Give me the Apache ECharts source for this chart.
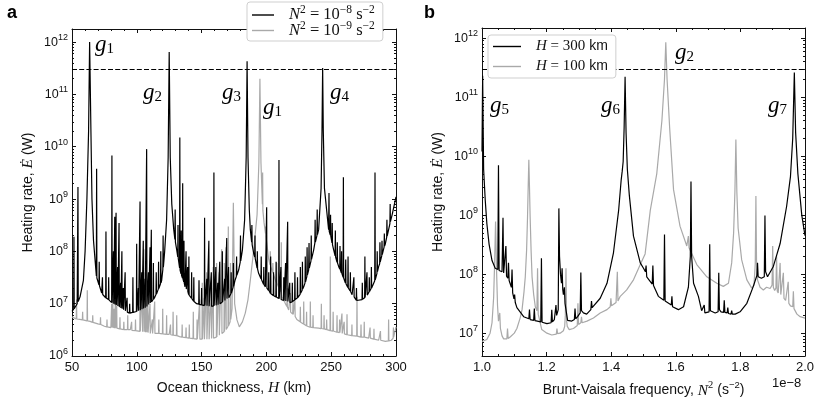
<!DOCTYPE html>
<html>
<head>
<meta charset="utf-8">
<script src="https://cdn.jsdelivr.net/npm/echarts@6/dist/echarts.min.js"></script>
<style>
html, body { margin: 0; padding: 0; background: #fff; }
#container { width: 830px; height: 415px; }
</style>
</head>
<body>
<div id="container"></div>
<script>
// panel a: heating rate vs ocean thickness H (km), two stratifications
let aStrong = [ // N^2 = 1e-8 s^-2
    [50, 7.1e6], [51.3, 7.9e6], [51.5, 1.9e8], [51.7, 8e6], [52, 8.3e6], [54, 1.0e7],
    [54.4, 1.05e7], [54.6, 1.7e9], [54.8, 1.1e7], [56.2, 1.35e7], [58.8, 2.8e7], [60.1, 1.0e8],
    [61.5, 1.0e9], [62.8, 2.0e10], [63.6, 1.0e12], [64.6, 2.0e10], [65.4, 1.0e9], [66.6, 1.6e8],
    [68.8, 3.4e7], [69.0, 3.8e9], [69.2, 3.1e7], [70.8, 2.3e7], [71.0, 6.3e7], [71.2, 2.2e7],
    [72.9, 1.6e7], [73.3, 1.55e7], [73.5, 3.2e7], [73.7, 1.5e7], [76.0, 1.3e7], [76.2, 2.4e8],
    [76.4, 1.28e7], [76.7, 1.26e7], [78.1, 1.2e7], [78.3, 3.2e7], [78.5, 1.18e7],
    [80.6, 1.05e7], [80.8, 6.8e9], [81.0, 1.04e7], [81.8, 1.0e7], [82.0, 1.0e8], [82.2, 1.0e7],
    [82.8, 9.7e6], [83.0, 4.6e8], [83.2, 9.6e6], [83.8, 9.4e6], [84.0, 5.5e8], [84.2, 9.3e6],
    [85.0, 9e6], [85.2, 5e7], [85.4, 9e6], [86.1, 8.7e6], [86.3, 3.5e8], [86.5, 8.6e6],
    [87.3, 8.4e6], [87.5, 2.5e7], [87.7, 8.3e6], [88.3, 8.1e6], [88.5, 1e8], [88.7, 8e6],
    [89.4, 7.8e6], [89.6, 2e7], [89.8, 7.7e6], [90.8, 7.4e6], [91.0, 4e7], [91.2, 7.3e6],
    [92.3, 7e6], [92.5, 1.3e7], [92.7, 6.9e6], [93.5, 6.6e6], [94.3, 6.6e6], [94.5, 1e7],
    [94.7, 6.6e6], [96.8, 6.8e6], [97.0, 3.2e7], [97.2, 6.8e6], [99.7, 7.1e6], [99.9, 1.4e8],
    [100.1, 7.1e6], [101.0, 7.3e6], [101.2, 2e7], [101.4, 7.3e6], [102.3, 7.5e6], [102.5, 9e8],
    [102.7, 7.5e6], [103.6, 7.8e6], [103.8, 4e7], [104.0, 7.8e6], [104.8, 8.1e6], [105.0, 1.6e8],
    [105.2, 8.1e6], [106.1, 8.4e6], [106.3, 3e7], [106.5, 8.4e6], [107.4, 8.7e6], [107.6, 9e9],
    [107.8, 8.8e6], [108.8, 9.5e6], [109.0, 4e7], [109.2, 9.6e6], [110.0, 1.02e7], [110.2, 1.2e8],
    [110.4, 1.03e7], [111.0, 1.07e7], [111.2, 2.6e8], [111.4, 1.08e7], [112.6, 1.2e7], [112.8, 6e7],
    [113.0, 1.22e7], [114, 1.35e7], [114.8, 1.5e7], [115.0, 4e7], [115.2, 1.52e7],
    [116.6, 1.9e7], [116.8, 6.3e7], [117.0, 1.95e7], [118.3, 2.4e7], [118.5, 1e8], [118.7, 2.5e7],
    [119.2, 2.8e7], [120.1, 4.5e7], [120.3, 2e8], [120.5, 5e7], [121.5, 1.0e8], [123, 4.0e8],
    [124.2, 6.3e9], [125, 6.5e11], [125.8, 6.3e9], [127, 8e8], [128.5, 2.6e8],
    [129.4, 1.7e8], [129.6, 6.3e8], [129.8, 1.5e8], [130.8, 1.07e8], [131.6, 7.8e7], [131.8, 3.2e8],
    [132.0, 7.3e7], [133.0, 4.8e7], [133.2, 1.5e10], [133.4, 4.4e7], [134.1, 3.7e7], [134.3, 2.5e8],
    [134.5, 3.5e7], [135.2, 3.1e7], [135.4, 2e9], [135.6, 3e7], [136.2, 2.6e7], [136.4, 1.6e8],
    [136.6, 2.5e7], [137.2, 2.1e7], [137.8, 1.95e7], [138.0, 1e8], [138.2, 1.9e7],
    [139.0, 1.75e7], [139.2, 5e7], [139.4, 1.7e7], [140.0, 1.5e7], [140.2, 8e7], [140.4, 1.45e7],
    [141, 1.35e7], [142.1, 1.27e7], [142.3, 4e7], [142.5, 1.25e7], [143.8, 1.12e7], [144.0, 3.2e7],
    [144.2, 1.1e7], [146.2, 1.0e7], [147.8, 9.8e6], [148.0, 2.8e7], [148.2, 9.7e6],
    [149.8, 9.5e6], [150.0, 2e7], [150.2, 9.5e6], [151.3, 9.3e6], [152.1, 9.2e6], [152.3, 4.4e8],
    [152.5, 9.2e6], [153.8, 9.1e6], [154.0, 3e7], [154.2, 9.1e6], [155.4, 8.9e6], [155.6, 1.6e8],
    [155.8, 8.9e6], [156.5, 8.9e6], [157.3, 8.9e6], [157.5, 4e7], [157.7, 8.9e6],
    [159.3, 9.1e6], [159.5, 3.2e9], [159.7, 9.1e6], [160.8, 9.2e6], [161.0, 5e7], [161.2, 9.3e6],
    [161.6, 9.3e6], [162.3, 9.5e6], [162.5, 2.5e7], [162.7, 9.5e6], [163.8, 1e7], [164.0, 6.3e7],
    [164.2, 1e7], [165.8, 1.07e7], [166.0, 1e8], [166.2, 1.08e7], [166.8, 1.1e7],
    [167.6, 1.15e7], [167.8, 3e7], [168.0, 1.15e7], [169.2, 1.25e7], [169.4, 1.8e8], [169.6, 1.25e7],
    [170.6, 1.3e7], [170.8, 5e7], [171.0, 1.3e7], [171.9, 1.35e7], [172.6, 1.55e7], [172.8, 4e7],
    [173.0, 1.6e7], [174.3, 2.05e7], [174.5, 6e7], [174.7, 2.15e7], [175.8, 2.8e7],
    [176.8, 3.3e7], [177.0, 8e7], [177.2, 3.5e7], [178.6, 4.4e7], [179.8, 6.2e7], [180.0, 2e8],
    [180.2, 6.6e7], [181.5, 1.07e8], [183.2, 4e8], [184.4, 6.3e9], [185.1, 4.3e11], [185.8, 6.3e9],
    [186.8, 6.3e8], [187.6, 2.6e8], [188.6, 1.5e8], [188.8, 3.2e8], [189.0, 1.35e8],
    [190.2, 9.1e7], [191.0, 7.8e7], [191.2, 2e8], [191.4, 7.3e7], [192.8, 4.8e7], [193.0, 1e8],
    [193.2, 4.6e7], [194, 3.8e7], [195.8, 3e7], [196.0, 8e7], [196.2, 2.9e7],
    [197.8, 2.35e7], [198.0, 5e7], [198.2, 2.3e7], [199.2, 2.1e7], [200.0, 2e7], [200.2, 7e8],
    [200.4, 1.98e7], [201.6, 1.8e7], [201.8, 4e7], [202.0, 1.78e7], [203.1, 1.57e7], [203.3, 8e7],
    [203.5, 1.55e7], [204.3, 1.48e7], [205.3, 1.43e7], [205.5, 4e7], [205.7, 1.42e7],
    [207.3, 1.35e7], [207.5, 6.3e7], [207.7, 1.34e7], [209.5, 1.26e7], [209.7, 5.6e9], [209.9, 1.25e7],
    [211.0, 1.2e7], [211.2, 5e7], [211.4, 1.2e7], [212, 1.17e7], [213.2, 1.15e7], [213.4, 3.2e7],
    [213.6, 1.15e7], [214.6, 1.12e7], [214.8, 6e7], [215.0, 1.12e7], [216.2, 1.1e7], [216.4, 3.7e8],
    [216.6, 1.1e7], [217.8, 1.06e7], [218.0, 2.5e7], [218.2, 1.05e7], [218.5, 1.05e7],
    [219.8, 1.08e7], [220.0, 2.5e7], [220.2, 1.1e7], [221.8, 1.18e7], [222.0, 4e7], [222.2, 1.2e7],
    [223.8, 1.28e7], [224.0, 3.2e7], [224.2, 1.3e7], [224.9, 1.35e7], [226.0, 1.5e7], [226.2, 5e7],
    [226.4, 1.58e7], [227.6, 1.8e7], [227.8, 6.3e7], [228.0, 1.9e7], [228.8, 2.1e7],
    [229.8, 2.5e7], [230.0, 8e7], [230.2, 2.6e7], [231.2, 3.3e7], [231.4, 1.2e8], [231.6, 3.5e7],
    [232.6, 4.4e7], [232.7, 4.5e7], [232.9, 1.45e8], [233.1, 4.8e7], [234.4, 6.6e7], [234.6, 2e8],
    [234.8, 7e7], [236.5, 1.07e8], [237.4, 1.45e8], [237.6, 4e8], [237.8, 1.5e8],
    [239.0, 2e8], [239.2, 6.3e8], [239.4, 2.1e8], [240.3, 2.6e8], [242.2, 1.6e9], [242.9, 2.0e10],
    [243.4, 3.2e11], [243.9, 2.0e10], [244.8, 1.6e9], [248, 2.6e8], [248.1, 2.55e8], [248.3, 1.3e9],
    [248.5, 2.4e8], [249.3, 2.05e8], [249.5, 5e8], [249.7, 1.95e8], [250.6, 1.45e8], [250.8, 3.5e8],
    [251.0, 1.35e8], [251.9, 1.07e8], [253.0, 8.2e7], [253.2, 2.5e8], [253.4, 7.8e7],
    [254.5, 6.2e7], [254.7, 1.5e8], [254.9, 6e7], [255.8, 5.1e7], [256.6, 4.6e7], [256.8, 1.26e8],
    [257.0, 4.5e7], [257.8, 3.9e7], [258.0, 1e8], [258.2, 3.8e7], [259.2, 3.2e7], [259.4, 2.6e9],
    [259.6, 3.1e7], [260.9, 2.5e7], [261.0, 2.45e7], [261.2, 7e7], [261.4, 2.4e7],
    [262.8, 2.05e7], [263.0, 8e7], [263.2, 2e7], [264.6, 1.75e7], [264.8, 4e7], [265.0, 1.7e7],
    [266.1, 1.48e7], [267.3, 1.37e7], [267.5, 3.2e7], [267.7, 1.35e7], [269.3, 1.16e7], [269.5, 2e7],
    [269.7, 1.15e7], [271.2, 1.1e7], [273.8, 1.2e7], [274.0, 2.5e7], [274.2, 1.22e7],
    [275.8, 1.3e7], [276.0, 8e7], [276.2, 1.32e7], [277.4, 1.43e7], [277.6, 4e7], [277.8, 1.46e7],
    [279.2, 1.68e7], [279.4, 3.2e7], [279.6, 1.72e7], [280.8, 1.95e7], [281.0, 5e7], [281.2, 2e7],
    [281.5, 2.1e7], [283.6, 2.75e7], [283.8, 3.2e9], [284.0, 2.85e7], [285.3, 3.8e7], [285.5, 1e8],
    [285.7, 4.1e7], [286.6, 5.1e7], [287.4, 5.8e7], [287.6, 1.5e8], [287.8, 6.2e7],
    [289.0, 8.2e7], [289.2, 1.6e8], [289.4, 8.7e7], [290.8, 1.2e8], [291.0, 2.2e8], [291.2, 1.26e8],
    [291.8, 1.4e8], [292.8, 1.85e8], [293.0, 4e8], [293.2, 1.95e8], [294.3, 2.6e8],
    [295.3, 3.4e8], [295.5, 8e8], [295.7, 3.7e8], [297, 5e8], [300, 1.1e9]
];
let aWeak = [ // N^2 = 1e-9 s^-2
    [50, 5.6e6], [53.3, 5.1e6], [53.5, 1.2e7], [53.7, 5.1e6], [56, 5.0e6], [58.0, 4.9e6],
    [58.2, 7e6], [58.4, 4.9e6], [61.6, 4.7e6], [61.8, 1.8e7], [62.0, 4.7e6], [64, 4.6e6],
    [65.8, 4.4e6], [66.0, 6e6], [66.2, 4.4e6], [70, 4.1e6], [71.8, 4e6], [72.0, 5.5e6], [72.2, 4e6],
    [75, 3.7e6], [76.8, 3.6e6], [77.0, 5e6], [77.2, 3.6e6], [80, 3.5e6], [80.4, 3.5e6], [80.6, 1e7],
    [80.8, 3.5e6], [81.3, 3.45e6], [81.5, 1.2e7], [81.7, 3.45e6], [82.3, 3.4e6], [82.5, 8e6],
    [82.7, 3.4e6], [83.3, 3.4e6], [83.5, 1.1e7], [83.7, 3.4e6], [84.3, 3.4e6], [84.5, 9e6],
    [84.7, 3.4e6], [86.8, 3.3e6], [87.0, 5.5e6], [87.2, 3.3e6], [89.8, 3.2e6], [90.0, 4.5e6],
    [90.2, 3.2e6], [92.8, 3.2e6], [93.0, 6e6], [93.2, 3.2e6], [95, 3.2e6], [95.8, 3.15e6],
    [96.0, 4.5e6], [96.2, 3.1e6], [98.8, 3.05e6], [99.0, 5e6], [99.2, 3.05e6], [100, 3.0e6],
    [102.3, 2.95e6], [102.5, 8.7e6], [102.7, 2.95e6], [104.1, 2.9e6], [104.3, 2e7], [104.5, 2.9e6],
    [105.3, 2.9e6], [105.5, 1.1e8], [105.7, 2.9e6], [106.3, 2.85e6], [106.5, 4e7], [106.7, 2.85e6],
    [107.3, 2.85e6], [107.5, 7e7], [107.7, 2.85e6], [108.3, 2.8e6], [108.5, 2.5e7], [108.7, 2.8e6],
    [110.0, 2.7e6], [110.2, 1e7], [110.4, 2.7e6], [111.8, 2.7e6], [112.0, 5e6], [112.2, 2.7e6],
    [113.6, 2.7e6], [113.8, 1.1e7], [114.0, 2.7e6], [116.8, 2.7e6], [117.0, 5e6], [117.2, 2.7e6],
    [118, 2.7e6], [119.8, 2.65e6], [120.0, 8e6], [120.2, 2.65e6], [122.8, 2.6e6], [123.0, 6e6],
    [123.2, 2.6e6], [125, 2.6e6], [125.8, 2.55e6], [126.0, 4e6], [126.2, 2.55e6], [127.8, 2.5e6],
    [128.0, 7e6], [128.2, 2.5e6], [130.6, 2.45e6], [130.8, 6e6], [131.0, 2.45e6], [133, 2.35e6],
    [134.8, 2.3e6], [135.0, 4e6], [135.2, 2.3e6], [137.8, 2.25e6], [138.0, 3.5e6], [138.2, 2.25e6],
    [140.3, 2.2e6], [140.5, 4e6], [140.7, 2.2e6], [141, 2.2e6], [143.4, 2.15e6], [143.6, 7e6],
    [143.8, 2.15e6], [146.3, 2.1e6], [146.5, 5e6], [146.7, 2.1e6], [148, 2.1e6], [148.3, 2.1e6],
    [148.5, 1.2e7], [148.7, 2.1e6], [150.3, 2.1e6], [150.5, 2.5e7], [150.7, 2.1e6], [151.8, 2.1e6],
    [152.0, 1.3e7], [152.2, 2.1e6], [153.7, 2.1e6], [153.9, 4e7], [154.1, 2.1e6], [155, 2.1e6],
    [155.4, 2.1e6], [155.6, 3e7], [155.8, 2.1e6], [157.3, 2.15e6], [157.5, 2e7], [157.7, 2.15e6],
    [158.8, 2.2e6], [159.0, 5e7], [159.2, 2.2e6], [160, 2.2e6], [161.4, 2.3e6], [161.6, 6e7],
    [161.8, 2.3e6], [163.3, 2.45e6], [163.5, 4e7], [163.7, 2.5e6], [165, 2.6e6], [165.3, 2.65e6],
    [165.5, 1.1e8], [165.7, 2.7e6], [167.3, 2.9e6], [167.5, 6e7], [167.7, 2.95e6], [168.6, 3.1e6],
    [168.8, 1.2e8], [169.0, 3.2e6], [170.4, 3.7e6], [170.6, 3e8], [170.8, 3.8e6], [172, 4.5e6],
    [172.1, 4.6e6], [172.3, 6e7], [172.5, 5e6], [173.5, 8e6], [174.5, 8.5e8], [175.5, 1e7],
    [177.3, 4.9e6], [179.1, 3.6e6], [181.5, 4.5e6], [183.7, 6.6e6], [185.8, 1.2e7], [187.6, 2.8e7],
    [190.2, 1.07e8], [192.8, 5e8], [194.2, 5e9], [195, 2e11], [195.8, 5e9], [196.9, 8e8],
    [197.1, 3.2e9], [197.3, 6e8], [198.2, 3.5e8], [199.3, 2.2e8], [199.5, 3e8], [199.7, 1.9e8],
    [201.8, 7e7], [202.8, 5.5e7], [203.0, 1e8], [203.2, 5.2e7], [204.8, 4e7], [205.0, 6e7],
    [205.2, 3.9e7], [206.9, 2.8e7], [207.8, 2.5e7], [208.0, 6e7], [208.2, 2.45e7], [209.3, 2.1e7],
    [209.5, 4e7], [209.7, 2.05e7], [211.3, 1.7e7], [211.5, 1.5e8], [211.7, 1.65e7], [212, 1.35e7],
    [213.8, 1.1e7], [214.0, 2.5e7], [214.2, 1.05e7], [215.8, 8.8e6], [216.0, 2e7], [216.2, 8.6e6],
    [217.2, 7.6e6], [218.3, 7e6], [218.5, 1.6e7], [218.7, 6.9e6], [220.3, 6.3e6], [220.5, 1.1e7],
    [220.7, 6.2e6], [221.8, 5.8e6], [222.0, 1.2e7], [222.2, 5.7e6], [223.5, 5e6], [224.9, 4.6e6],
    [226.0, 4.5e6], [226.2, 8.7e6], [226.4, 4.4e6], [228.6, 4.1e6], [228.8, 1.1e7], [229.0, 4.05e6],
    [230.8, 3.8e6], [231.0, 7e6], [231.2, 3.75e6], [232.6, 3.6e6], [233.7, 3.55e6], [233.9, 1.1e7],
    [234.1, 3.55e6], [235.8, 3.5e6], [236.0, 6e6], [236.2, 3.5e6], [240.3, 3.4e6], [242.2, 3.35e6],
    [242.4, 1e7], [242.6, 3.35e6], [244.3, 3.3e6], [244.5, 6e6], [244.7, 3.3e6], [246.3, 3.2e6],
    [246.5, 5e6], [246.7, 3.2e6], [249.1, 3.05e6], [249.3, 8e7], [249.5, 3.05e6], [250.6, 3e6],
    [251.3, 3e6], [251.5, 7e6], [251.7, 3e6], [254.3, 2.85e6], [254.5, 6e6], [254.7, 2.85e6],
    [256.3, 2.8e6], [256.5, 5e6], [256.7, 2.8e6], [258.1, 2.7e6], [258.3, 6.5e6], [258.5, 2.7e6],
    [259.8, 2.65e6], [260.0, 4.5e6], [260.2, 2.65e6], [262.0, 2.55e6], [262.2, 6.3e6], [262.4, 2.55e6],
    [263.5, 2.5e6], [265.8, 2.45e6], [266.0, 4e6], [266.2, 2.45e6], [269.7, 2.4e6], [269.9, 1.35e7],
    [270.1, 2.4e6], [271.2, 2.35e6], [272.8, 2.3e6], [273.0, 4e6], [273.2, 2.3e6], [275.3, 2.3e6],
    [275.5, 4.5e6], [275.7, 2.3e6], [278.9, 2.2e6], [279.8, 2.2e6], [280.0, 3.5e6], [280.2, 2.2e6],
    [282.8, 2.1e6], [283.0, 3.3e6], [283.2, 2.1e6], [286.6, 2.0e6], [287.8, 2e6], [288.0, 3e6],
    [288.2, 2e6], [291.8, 1.9e6], [294.1, 1.95e6], [294.3, 5e6], [294.5, 1.95e6], [296.4, 2.0e6],
    [297.8, 2.2e6], [298.0, 3.5e6], [298.2, 2.3e6], [300, 3.6e6]
];
// panel b: heating rate vs N^2 (units of 1e-8 s^-2), two ocean thicknesses
let bDeep = [ // H = 300 km
    [1.0, 1.2e10], [1.002, 2.3e11], [1.005, 6e9], [1.01, 1.8e9], [1.015, 7.2e8], [1.022, 3.2e8],
    [1.031, 1.7e8], [1.041, 1.26e8], [1.049, 1.2e8], [1.051, 7e9], [1.053, 1.15e8],
    [1.062, 1.1e8], [1.065, 9e8], [1.067, 1.05e8], [1.072, 1e8], [1.074, 3e8], [1.076, 9.2e7],
    [1.080, 8.5e7], [1.082, 1.55e8], [1.084, 7.8e7], [1.091, 6e7], [1.093, 1.2e8], [1.095, 4.8e7],
    [1.099, 3.8e7], [1.101, 4.5e7], [1.103, 3.3e7], [1.108, 2.7e7], [1.129, 1.9e7],
    [1.145, 1.75e7], [1.147, 2.5e7], [1.149, 1.7e7], [1.160, 1.65e7], [1.162, 2.6e7], [1.164, 1.63e7],
    [1.170, 1.6e7], [1.182, 1.55e7], [1.184, 1.85e8], [1.186, 1.53e7], [1.201, 1.45e7],
    [1.214, 1.5e7], [1.216, 2.5e7], [1.218, 1.55e7], [1.224, 1.7e7], [1.227, 1.8e7], [1.229, 3e7],
    [1.231, 2e7], [1.236, 2.5e7], [1.238, 1.3e9], [1.240, 2e8], [1.243, 1e8], [1.246, 7e7],
    [1.248, 1.26e8], [1.250, 5.5e7], [1.252, 4.5e7], [1.255, 6e7], [1.257, 3.2e7], [1.265, 1.65e7],
    [1.278, 1.6e7], [1.286, 1.7e7], [1.288, 2.6e7], [1.290, 1.75e7], [1.296, 1.9e7],
    [1.304, 2.2e7], [1.306, 1.07e8], [1.308, 2.4e7], [1.314, 2.2e7], [1.324, 2.1e7],
    [1.337, 2.5e7], [1.339, 3.5e7], [1.341, 2.7e7], [1.345, 2.8e7], [1.366, 3.9e7], [1.387, 7e7],
    [1.407, 2.3e8], [1.423, 1.2e9], [1.431, 4e9], [1.434, 5.5e9], [1.437, 8e9], [1.440, 3e10],
    [1.443, 2.2e11], [1.446, 2.5e10], [1.450, 6e9], [1.456, 2.2e9], [1.469, 4.4e8], [1.490, 1.55e8],
    [1.500, 1.26e8], [1.506, 1.1e8], [1.508, 1.4e8], [1.510, 9e7], [1.527, 6.8e7], [1.529, 1.4e8],
    [1.531, 6.4e7], [1.546, 4.2e7], [1.563, 3.6e7], [1.565, 4.7e8], [1.567, 3.5e7],
    [1.586, 3e7], [1.588, 4.2e7], [1.590, 2.8e7], [1.608, 2.5e7], [1.624, 2.8e7], [1.639, 6e7],
    [1.645, 2e8], [1.647, 3.7e9], [1.649, 2e8], [1.655, 7e7], [1.670, 4.2e7], [1.680, 2.4e7],
    [1.686, 2.3e7], [1.688, 3e7], [1.690, 2.2e7], [1.694, 2.2e7], [1.703, 2.3e7], [1.705, 3.2e8],
    [1.707, 2.4e7], [1.711, 2.5e7], [1.722, 2.2e7], [1.731, 2.3e7], [1.733, 1.05e8], [1.735, 2.5e7],
    [1.740, 2.3e7], [1.748, 2.25e7], [1.750, 3.6e7], [1.752, 2.25e7], [1.759, 2.2e7], [1.761, 2.7e7],
    [1.763, 2.15e7], [1.771, 2.1e7], [1.773, 2.4e7], [1.775, 2.1e7], [1.784, 2.1e7], [1.799, 2.3e7],
    [1.820, 3.2e7], [1.840, 6.2e7], [1.851, 9.5e7], [1.853, 1.55e8], [1.855, 9e7], [1.865, 8.5e7],
    [1.874, 9e7], [1.876, 9.8e8], [1.878, 1.1e8], [1.884, 9e7], [1.902, 1.35e8], [1.923, 3.3e8],
    [1.943, 1.4e9], [1.955, 4.5e9], [1.962, 2e10], [1.967, 2.6e11], [1.971, 2.5e10], [1.978, 5e9],
    [1.990, 1e9], [2.000, 4.5e8]
];
let bShallow = [ // H = 100 km
    [1.000, 7.2e6], [1.015, 7.8e6], [1.025, 1e7], [1.031, 1.5e7], [1.036, 4e7], [1.039, 1.5e8],
    [1.042, 7.8e8], [1.045, 1.2e8], [1.048, 3e7], [1.051, 1.6e7], [1.053, 1.5e7], [1.055, 2.2e7],
    [1.057, 1.2e7], [1.062, 9e6], [1.067, 8e6], [1.077, 8e6], [1.079, 1.2e7], [1.081, 8.1e6],
    [1.088, 8.7e6], [1.100, 1e7], [1.108, 1.2e7], [1.118, 1.8e7], [1.124, 2.5e7], [1.130, 5e7],
    [1.134, 9e7], [1.138, 2.5e8], [1.141, 9.5e8], [1.143, 3e9], [1.145, 8.7e9], [1.147, 3e9],
    [1.149, 9.5e8], [1.152, 2.5e8], [1.155, 9e7], [1.160, 4.5e7], [1.165, 2.8e7], [1.170, 2.4e7],
    [1.172, 1.26e8], [1.174, 2.1e7], [1.178, 1.7e7], [1.185, 1.15e7], [1.201, 1e7], [1.216, 9.3e6],
    [1.230, 9.6e6], [1.232, 1.2e7], [1.234, 9.8e6], [1.242, 1e7], [1.252, 1.1e7], [1.256, 1.3e7],
    [1.258, 2e7], [1.260, 1.26e8], [1.262, 1.6e7], [1.264, 1.3e7], [1.270, 1.15e7], [1.283, 1.2e7],
    [1.295, 1.35e7], [1.297, 3.2e7], [1.299, 1.4e7], [1.304, 1.45e7], [1.306, 1.5e7], [1.308, 1.9e7],
    [1.310, 1.5e7], [1.325, 1.6e7], [1.345, 1.8e7], [1.366, 2.2e7], [1.387, 2.5e7], [1.397, 2.8e7],
    [1.399, 3.9e7], [1.401, 2.9e7], [1.415, 3.3e7], [1.417, 3.4e7], [1.419, 1.1e8], [1.421, 3.5e7],
    [1.428, 4.2e7], [1.448, 5.4e7], [1.469, 8e7], [1.490, 1.45e8], [1.505, 2.2e8], [1.521, 1.2e9],
    [1.541, 5e9], [1.557, 4e10], [1.565, 2e11], [1.569, 8.5e11], [1.573, 2e11], [1.581, 3e10],
    [1.593, 2.7e9], [1.613, 6.5e8], [1.634, 3e8], [1.637, 3.2e8], [1.639, 4.4e8], [1.641, 2.8e8],
    [1.665, 1.45e8], [1.696, 9e7], [1.727, 7e7], [1.747, 6.2e7], [1.763, 7e7], [1.773, 1.55e8],
    [1.779, 5e8], [1.783, 2.5e9], [1.786, 1.9e10], [1.789, 2.5e9], [1.793, 6e8], [1.804, 1.74e8],
    [1.820, 8e7], [1.835, 5.8e7], [1.842, 6.5e7], [1.846, 1.5e8], [1.848, 2.1e9], [1.850, 1.5e8],
    [1.853, 8e7], [1.861, 6e7], [1.871, 5.4e7], [1.881, 6e7], [1.892, 5.7e7], [1.898, 6.5e7],
    [1.900, 3e8], [1.902, 6e7], [1.906, 5.3e7], [1.910, 5.8e7], [1.912, 2e8], [1.914, 5.2e7],
    [1.917, 4.8e7], [1.921, 5e7], [1.923, 1.55e8], [1.925, 4.5e7], [1.928, 4.2e7], [1.931, 4.3e7],
    [1.933, 1.05e8], [1.935, 3.9e7], [1.940, 3.6e7], [1.946, 3.5e7], [1.948, 7.4e7], [1.950, 3.2e7],
    [1.955, 2.9e7], [1.962, 2.8e7], [1.964, 5.1e7], [1.966, 2.6e7], [1.975, 2.1e7], [1.985, 1.9e7],
    [2.000, 1.8e7]
];
let heatLimit = 3e11;          // dashed reference line
let aYRange = [1e6, 1.78e12];
let bYRange = [4.1e6, 1.48e12];
let aDecades = [6, 7, 8, 9, 10, 11, 12];   // y tick labels 10^n
let bDecades = [7, 8, 9, 10, 11, 12];
let modeLabelsA = ['1', '2', '3', '1', '4']; // g_n labels, panel a
let modeLabelsB = ['5', '6', '2', '7'];

const SANS = 'Liberation Sans, Arial, sans-serif';
const SERIF = 'Liberation Serif, Times New Roman, serif';
const INK = '#111';
const GREY = '#a9a9a9';

let dom = document.getElementById('container');
let myChart = echarts.init(dom);

function minorLogs(range) {
    let lo = Math.log10(range[0]), hi = Math.log10(range[1]);
    let out = [];
    for (let d = Math.floor(lo); d <= Math.ceil(hi); d++) {
        for (let m = 2; m <= 9; m++) {
            let v = d + Math.log10(m);
            if (v > lo && v < hi) out.push(v);
        }
    }
    return out;
}

let richTick = {
    b: { fontFamily: SANS, fontSize: 12.5, color: INK },
    e: { fontFamily: SANS, fontSize: 9, color: INK, padding: [0, 0, 9, 0] }
};
let richName = {
    t: { fontFamily: SANS, fontSize: 14, color: INK },
    i: { fontFamily: SERIF, fontStyle: 'italic', fontSize: 15.5, color: INK },
    s: { fontFamily: SERIF, fontSize: 10.5, color: INK, padding: [0, 0, 10, 0] },
    u: { fontFamily: SANS, fontSize: 9.5, color: INK, padding: [0, 0, 10, 0] }
};

function yAxesFor(gridIndex, range, decades) {
    let lo = Math.log10(range[0]), hi = Math.log10(range[1]);
    let minors = minorLogs(range);
    let base = { gridIndex: gridIndex, type: 'value', min: lo, max: hi, splitLine: { show: false },
        axisLine: { show: false, onZero: false }, axisLabel: { show: false } };
    return [
        // log axis the series are drawn on
        { gridIndex: gridIndex, type: 'log', logBase: 10, min: range[0], max: range[1], position: 'left', show: false },
        Object.assign({}, base, {
            position: 'left',
            axisLine: { show: true, onZero: false, lineStyle: { color: INK, width: 1 } },
            axisTick: { inside: true, length: 4, customValues: decades, lineStyle: { color: INK } },
            axisLabel: {
                show: true, margin: 4, customValues: decades, rich: richTick,
                formatter: v => '{b|10}{e|' + v + '}'
            },
            name: '{t|Heating rate, }{i|Ė}{t| (W)}',
            nameLocation: 'middle', nameRotate: 90, nameGap: 36,
            nameTextStyle: { rich: richName }
        }),
        Object.assign({}, base, {
            position: 'left',
            axisTick: { inside: true, length: 2, customValues: minors, lineStyle: { color: INK } }
        }),
        Object.assign({}, base, {
            position: 'right',
            axisLine: { show: true, onZero: false, lineStyle: { color: INK, width: 1 } },
            axisTick: { inside: true, length: 4, customValues: decades, lineStyle: { color: INK } }
        }),
        Object.assign({}, base, {
            position: 'right',
            axisTick: { inside: true, length: 2, customValues: minors, lineStyle: { color: INK } }
        })
    ];
}

function xAxesFor(gridIndex, min, max, interval, split, name, fmt) {
    let common = {
        gridIndex: gridIndex, type: 'value', min: min, max: max, interval: interval,
        splitLine: { show: false },
        axisLine: { show: true, onZero: false, lineStyle: { color: INK, width: 1 } },
        axisTick: { inside: true, length: 4, lineStyle: { color: INK } },
        minorTick: { show: true, splitNumber: split, length: 2, lineStyle: { color: INK } }
    };
    return [
        Object.assign({}, common, {
            position: 'bottom',
            axisLabel: { margin: 5, fontFamily: SANS, fontSize: 13, color: INK, formatter: fmt },
            name: name, nameLocation: 'middle', nameGap: 24,
            nameTextStyle: { rich: richName }
        }),
        Object.assign({}, common, { position: 'top', axisLabel: { show: false } })
    ];
}

function curve(name, data, xi, yi, color, z, withLimit) {
    let s = {
        name: name, type: 'line', xAxisIndex: xi, yAxisIndex: yi, data: data,
        showSymbol: false, symbol: 'none', silent: true, z: z,
        lineStyle: { color: color, width: 1.2 },
        itemStyle: { color: color },
        emphasis: { disabled: true }
    };
    if (withLimit) {
        s.markLine = {
            silent: true, symbol: 'none', label: { show: false },
            lineStyle: { color: '#000', width: 1.2, type: [5, 2.2] },
            emphasis: { disabled: true },
            data: [{ yAxis: heatLimit }]
        };
    }
    return s;
}

let legendRich = {
    sp: { width: 10 },
    i: { fontFamily: SERIF, fontStyle: 'italic', fontSize: 16.5, color: INK },
    r: { fontFamily: SERIF, fontSize: 16.5, color: INK },
    k: { fontFamily: SANS, fontSize: 14, color: INK },
    p: { fontFamily: SERIF, fontSize: 11.5, color: INK, padding: [0, 0, 10, 0] }
};
let legendRichB = Object.assign({}, legendRich, {
    i: { fontFamily: SERIF, fontStyle: 'italic', fontSize: 15, color: INK },
    r: { fontFamily: SERIF, fontSize: 15, color: INK }
});
let legendText = {
    'N2-8': '{sp| }{i|N}{p|2}{r| = 10}{p|−8}{r| s}{p|−2}',
    'N2-9': '{sp| }{i|N}{p|2}{r| = 10}{p|−9}{r| s}{p|−2}',
    'H300': '{sp| }{i|H}{r| = 300}{k| km}',
    'H100': '{sp| }{i|H}{r| = 100}{k| km}'
};

let gRich = {
    g: { fontFamily: SERIF, fontStyle: 'italic', fontSize: 23, fill: '#000' },
    n: { fontFamily: SERIF, fontSize: 15, fill: '#000', padding: [9, 0, 0, 0] }
};
let gPosA = [[95, 33], [143, 81], [222, 81], [263, 96], [330, 81]];
let gPosB = [[490, 94], [601, 94], [675, 41], [768, 94]];
let graphics = [];
modeLabelsA.forEach((n, i) => {
    graphics.push({ type: 'text', left: gPosA[i][0], top: gPosA[i][1], silent: true,
        style: { text: '{g|g}{n|' + n + '}', rich: gRich } });
});
modeLabelsB.forEach((n, i) => {
    graphics.push({ type: 'text', left: gPosB[i][0], top: gPosB[i][1], silent: true,
        style: { text: '{g|g}{n|' + n + '}', rich: gRich } });
});
graphics.push({ type: 'text', left: 7, top: 4, style: { text: 'a', font: 'bold 18px ' + SANS, fill: '#000' } });
graphics.push({ type: 'text', left: 424, top: 4, style: { text: 'b', font: 'bold 18px ' + SANS, fill: '#000' } });
graphics.push({ type: 'text', left: 772, top: 377, style: { text: '1e−8', font: '13px ' + SANS, fill: INK } });

let option = {
    animation: false,
    textStyle: { fontFamily: SANS },
    grid: [
        { left: 72, top: 29, width: 324, height: 327 },
        { left: 482, top: 28, width: 323, height: 328 }
    ],
    xAxis: [].concat(
        xAxesFor(0, 50, 300, 50, 5, '{t|Ocean thickness, }{i|H}{t| (km)}', v => String(v)),
        xAxesFor(1, 1.0, 2.0, 0.2, 4, '{t|Brunt-Vaisala frequency, }{i|N}{s|2}{t| (s}{u|−2}{t|)}', v => v.toFixed(1))
    ),
    yAxis: [].concat(yAxesFor(0, aYRange, aDecades), yAxesFor(1, bYRange, bDecades)),
    legend: [
        {
            left: 247, top: 2, orient: 'vertical', selectedMode: false,
            data: ['N2-8', 'N2-9'], icon: 'rect', itemWidth: 22, itemHeight: 1.4, itemGap: -4,
            padding: [2, 8, 2, 5], borderColor: '#cfcfcf', borderWidth: 1, borderRadius: 3,
            backgroundColor: '#fff', textStyle: { rich: legendRich },
            formatter: n => legendText[n], z: 10
        },
        {
            left: 488, top: 35, orient: 'vertical', selectedMode: false,
            data: ['H300', 'H100'], icon: 'rect', itemWidth: 28, itemHeight: 1.4, itemGap: 5,
            padding: [4, 8, 4, 5], borderColor: '#cfcfcf', borderWidth: 1, borderRadius: 3,
            backgroundColor: '#fff', textStyle: { rich: legendRichB },
            formatter: n => legendText[n], z: 10
        }
    ],
    series: [
        curve('N2-8', aStrong, 0, 0, '#000', 3, true),
        curve('N2-9', aWeak, 0, 0, GREY, 2, false),
        curve('H300', bDeep, 2, 5, '#000', 3, true),
        curve('H100', bShallow, 2, 5, GREY, 2, false)
    ],
    graphic: graphics
};
if (option && typeof option === 'object') {
    myChart.setOption(option, true);
}
</script>
</body>
</html>
